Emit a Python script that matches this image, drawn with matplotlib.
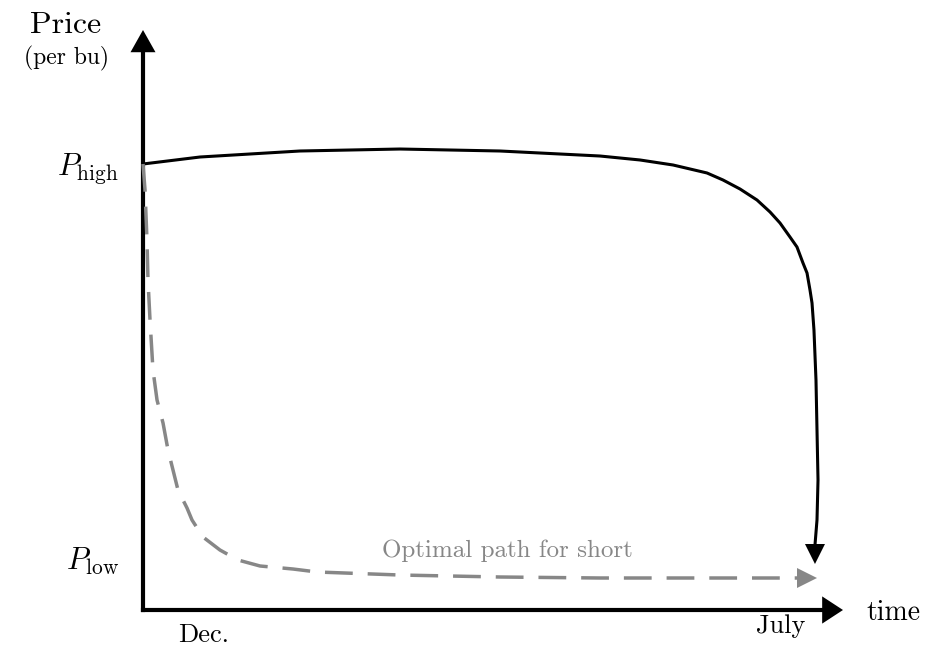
import matplotlib.pyplot as plt
import numpy as np

plt.rcParams['mathtext.fontset'] = 'cm'
plt.rcParams['font.family'] = ['cmr10', 'DejaVu Serif']
plt.rcParams['axes.formatter.use_mathtext'] = True

# scaled units: price P_low = 0, P_high = 1 ; time Dec. = 0, July = 1
time_hold = [0, 0.0846, 0.2329, 0.3813, 0.5297, 0.6780, 0.7374, 0.7864, 0.8368,
             0.8605, 0.8858, 0.9110, 0.9303, 0.9451, 0.9599, 0.9703, 0.9792, 0.9852,
             0.9896, 0.9926, 0.9955, 0.9985, 1.0, 1.0015, 1.0, 0.9970]
price_hold = [1.0, 1.0169, 1.0314, 1.0362, 1.0314, 1.0193, 1.0097, 0.9976, 0.9783,
              0.9614, 0.9396, 0.9130, 0.8841, 0.8575, 0.8237, 0.7995, 0.7609, 0.7367,
              0.6957, 0.6643, 0.5990, 0.4783, 0.3575, 0.2367, 0.1401, 0.0338]

time_short = [0, 0.0030, 0.0059, 0.0074, 0.0104, 0.0148, 0.0208, 0.0297, 0.0371,
              0.0519, 0.0653, 0.0727, 0.0890, 0.1142, 0.1409, 0.1736, 0.2226, 0.2582,
              0.3813, 0.5297, 0.6780, 0.8264, 1.0]
price_short = [1.0, 0.9372, 0.8164, 0.7198, 0.6232, 0.5024, 0.4300, 0.3744, 0.3092,
               0.2126, 0.1691, 0.1401, 0.0990, 0.0676, 0.0435, 0.0290, 0.0217, 0.0145,
               0.0072, 0.0024, 0.0, 0.0, 0.0]

y_labels = [r'$P_{\mathrm{high}}$', r'$P_{\mathrm{low}}$']
x_labels = ['Dec.', 'July']

W, H = 937, 646
X0, Y0, SX, SY = 143, 578, 674, 414   # where (0,0) sits in pixels, pixels per unit

fig = plt.figure(figsize=(W / 100, H / 100), dpi=100)
ax = fig.add_axes([0, 0, 1, 1])
ax.set_xlim(-X0 / SX, (W - X0) / SX)
ax.set_ylim((Y0 - H) / SY, Y0 / SY)
ax.axis('off')

t_axis, p_axis = 0.0, (Y0 - 610) / SY
t_end, p_end = (843 - X0) / SX, (Y0 - 30) / SY
head_t, head_p = 21 / SX, 23 / SY

def head(tip, base, color, scale, hl, hw):
    ax.annotate('', xy=tip, xytext=base,
                arrowprops=dict(arrowstyle='-|>,head_length=%s,head_width=%s' % (hl, hw),
                                color=color, lw=0, mutation_scale=scale,
                                shrinkA=0, shrinkB=0))

# axes
ax.plot([t_axis, t_end - head_t + 0.003], [p_axis, p_axis], color='black', lw=3.0,
        solid_capstyle='projecting')
ax.plot([t_axis, t_axis], [p_axis, p_end - head_p + 0.005], color='black', lw=3.0,
        solid_capstyle='projecting')
head((t_end, p_axis), (t_end - head_t, p_axis), 'black', 20, 0.75, 0.49)
head((t_axis, p_end), (t_axis, p_end - head_p), 'black', 20, 0.8, 0.45)

# price path
hl = 19 / SY
ax.plot(time_hold[:-1] + [time_hold[-1]], price_hold[:-1] + [price_hold[-1] + hl],
        color='black', lw=2.2, solid_capstyle='butt', solid_joinstyle='round')
head((time_hold[-1], price_hold[-1]), (time_hold[-1], price_hold[-1] + hl),
     'black', 16, 0.9, 0.45)

# optimal path for short
hl = 20 / SX
ax.plot(time_short[:-1] + [time_short[-1] - hl], price_short,
        color='#878787', lw=2.5, dashes=(8, 4.3), dash_capstyle='butt',
        dash_joinstyle='round')
head((time_short[-1], price_short[-1]), (time_short[-1] - hl, price_short[-1]),
     '#878787', 16, 0.9, 0.45)

def label(x, y, s, size, ha='center', color='black'):
    fig.text(x / W, 1 - y / H, s, fontsize=size, ha=ha, va='baseline', color=color)

label(66, 33, 'Price', 23)
label(67, 64, '(per bu)', 17)
label(119, 175, y_labels[0], 22, ha='right')
label(119, 570, y_labels[1], 22, ha='right')
label(204, 642, x_labels[0], 19)
label(781, 633, x_labels[1], 19)
label(866, 620, 'time', 20, ha='left')
label(507, 557, 'Optimal path for short', 18, color='#878787')

fig.savefig('out.png', dpi=100)
